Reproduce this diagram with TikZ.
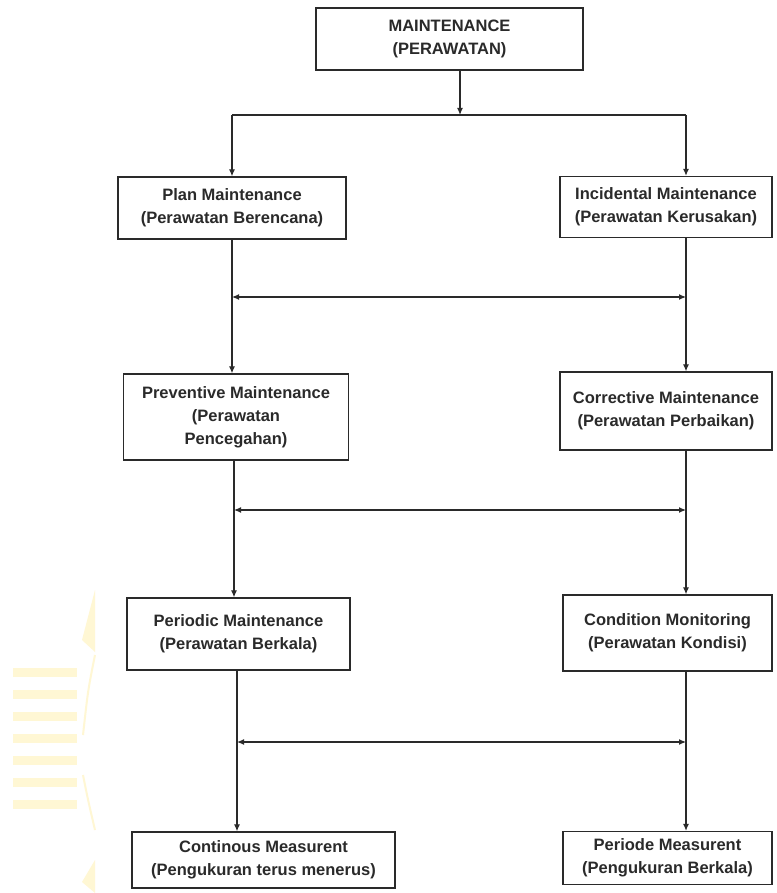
\documentclass[tikz,border=0pt]{standalone}
\usepackage{fontspec}
\setmainfont{Liberation Sans}
\usetikzlibrary{arrows.meta}
\definecolor{ink}{HTML}{2A2A2A}
\definecolor{wm}{HTML}{FFF7D4}
\tikzset{
  box/.style={draw=ink, line width=1.3pt, rectangle, inner sep=0pt, align=center,
    text=ink, font=\bfseries\fontsize{16.5}{23}\selectfont},
  conn/.style={draw=ink, line width=1.2pt},
  arr/.style={conn, -{Latex[length=7pt,width=6pt]}},
  darr/.style={conn, {Latex[length=7pt,width=6pt]}-{Latex[length=7pt,width=6pt]}},
  wmark/.style={fill=wm, draw=none}
}
\begin{document}
\begin{tikzpicture}[x=1pt,y=-1pt]
\useasboundingbox (0,0) rectangle (776,893);
\fill[white] (0,0) rectangle (776,893);
% faint watermark
\foreach \yy in {668,690,712,734,756,778,800}{
  \fill[wmark] (13,\yy) rectangle (77,\yy+9);
}
\fill[wmark] (95,590) -- (82,640) -- (95,652) -- cycle;
\draw[wm, line width=2pt] (95,655) .. controls (88,690) .. (83,735);
\draw[wm, line width=2pt] (83,775) .. controls (88,800) .. (95,830);
\fill[wmark] (95,860) -- (82,882) -- (95,893) -- cycle;

% boxes
\node[box, minimum width=267pt, minimum height=62pt] (top) at (449.5,39) {MAINTENANCE\\(PERAWATAN)};
\node[box, minimum width=228pt, minimum height=62pt] (plan) at (232,208) {Plan Maintenance\\(Perawatan Berencana)};
\node[box, minimum width=212pt, minimum height=61pt] (incid) at (666,207) {Incidental Maintenance\\(Perawatan Kerusakan)};
\node[box, minimum width=225pt, minimum height=86pt] (prev) at (236,417) {Preventive Maintenance\\(Perawatan\\Pencegahan)};
\node[box, minimum width=212pt, minimum height=78pt] (corr) at (666,411) {Corrective Maintenance\\(Perawatan Perbaikan)};
\node[box, minimum width=223pt, minimum height=72pt] (period) at (238.5,634) {Periodic Maintenance\\(Perawatan Berkala)};
\node[box, minimum width=209pt, minimum height=76pt] (cond) at (667.5,633) {Condition Monitoring\\(Perawatan Kondisi)};
\node[box, minimum width=263pt, minimum height=56pt] (cont) at (263.5,860) {Continous Measurent\\(Pengukuran terus menerus)};
\node[box, minimum width=209pt, minimum height=53pt] (periode) at (667.5,858) {Periode Measurent\\(Pengukuran Berkala)};

% junction coordinates
\coordinate (j0) at (460,115);
\coordinate (jL) at (232,115);
\coordinate (jR) at (686,115);
\coordinate (a1L) at (232,297);
\coordinate (a1R) at (686,297);
\coordinate (a2L) at (234,510);
\coordinate (a2R) at (686,510);
\coordinate (a3L) at (237,742);
\coordinate (a3R) at (686,742);

% connectors
\draw[arr] (j0 |- top.south) -- (j0);
\draw[conn] (jL) -- (jR);
\draw[arr] (jL) -- (plan.north);
\draw[arr] (jR) -- (jR |- incid.north);

\draw[arr] (plan.south) -- (plan.south |- prev.north);
\draw[arr] (a1R |- incid.south) -- (a1R |- corr.north);
\draw[darr] (a1L) -- (a1R);

\draw[arr] (a2L |- prev.south) -- (a2L |- period.north);
\draw[arr] (a2R |- corr.south) -- (a2R |- cond.north);
\draw[darr] (a2L) -- (a2R);

\draw[arr] (a3L |- period.south) -- (a3L |- cont.north);
\draw[arr] (a3R |- cond.south) -- (a3R |- periode.north);
\draw[darr] (a3L) -- (a3R);
\end{tikzpicture}
\end{document}
